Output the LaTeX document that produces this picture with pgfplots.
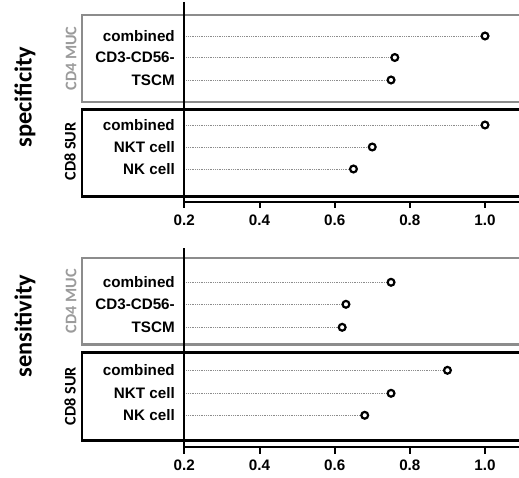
\documentclass[border=0pt]{standalone}
\usepackage{pgfplots}
\pgfplotsset{compat=1.18}
\usepackage{fontspec}
\setmainfont{Liberation Sans}
\newfontfamily\calibri{Carlito}
\definecolor{boxgray}{RGB}{140,140,140}
\definecolor{txtgray}{RGB}{155,155,155}
\definecolor{dotgray}{RGB}{140,140,140}
\pgfplotsset{
  panel/.style={
    scale only axis,
    width=334.7pt,
    xmin=0.2, xmax=1.0904,
    axis x line*=bottom, axis y line*=left,
    axis line style={draw=none},
    xtick={0.2,0.4,0.6,0.8,1.0},
    xticklabels={0.2,0.4,0.6,0.8,1.0},
    tick align=outside, major tick length=6pt,
    xtick style={draw=none},
    ytick style={draw=none},
    tick label style={font=\fontsize{15.2}{18}\selectfont\bfseries, text=black},
    xticklabel style={yshift=-4pt},
    clip=true,
  },
  lolly/.style={xcomb, dotgray, densely dotted, line width=0.8pt},
  dots/.style={only marks, mark=*, mark size=3.4pt, line width=2.2pt,
    mark options={fill=white, draw=black, line width=2.2pt},
    every mark/.append style={line width=2.2pt}},
}
\begin{document}
\begin{tikzpicture}
\clip (0pt,0pt) rectangle (519pt,477pt);
% ---------- specificity ----------
\draw[boxgray, line width=2.4pt] (82pt,462pt) rectangle (530pt,375pt);
\draw[black, line width=2.6pt] (82pt,367.7pt) rectangle (530pt,280.3pt);
\node[rotate=90, txtgray, font=\calibri\fontsize{16.2}{18}\selectfont\bfseries] at (71pt,418.5pt) {CD4 MUC};
\node[rotate=90, black, font=\calibri\fontsize{16.2}{18}\selectfont\bfseries] at (70pt,325.5pt) {CD8 SUR};
\node[rotate=90, black, font=\calibri\fontsize{24.4}{28}\selectfont\bfseries] at (25pt,380pt) {specificity};
\begin{axis}[panel, at={(184.3pt,275.3pt)}, anchor=south west,
  height=199.7pt, ymin=-201.7, ymax=-2,
  ytick={-36,-57.5,-80,-125,-147,-169},
  yticklabels={combined,CD3-CD56-,TSCM,combined,NKT cell,NK cell}]
\addplot[lolly] coordinates {(1.0,-36) (0.76,-57.5) (0.75,-80) (1.0,-125) (0.70,-147) (0.65,-169)};
\addplot[dots] coordinates {(1.0,-36) (0.76,-57.5) (0.75,-80) (1.0,-125) (0.70,-147) (0.65,-169)};
\end{axis}
% ---------- sensitivity ----------
\draw[boxgray, line width=2.4pt] (82pt,218.7pt) rectangle (530pt,132.7pt);
\draw[black, line width=2.6pt] (82pt,124.3pt) rectangle (530pt,36.7pt);
\node[rotate=90, txtgray, font=\calibri\fontsize{16.2}{18}\selectfont\bfseries] at (71pt,175.7pt) {CD4 MUC};
\node[rotate=90, black, font=\calibri\fontsize{16.2}{18}\selectfont\bfseries] at (70pt,81pt) {CD8 SUR};
\node[rotate=90, black, font=\calibri\fontsize{24.4}{28}\selectfont\bfseries] at (25pt,151pt) {sensitivity};
\begin{axis}[panel, at={(184.3pt,30.3pt)}, anchor=south west,
  height=198.4pt, ymin=-446.7, ymax=-248.3,
  ytick={-282.3,-304.3,-327.3,-370.3,-393.3,-415.3},
  yticklabels={combined,CD3-CD56-,TSCM,combined,NKT cell,NK cell}]
\addplot[lolly] coordinates {(0.75,-282.3) (0.63,-304.3) (0.62,-327.3) (0.90,-370.3) (0.75,-393.3) (0.68,-415.3)};
\addplot[dots] coordinates {(0.75,-282.3) (0.63,-304.3) (0.62,-327.3) (0.90,-370.3) (0.75,-393.3) (0.68,-415.3)};
\end{axis}
% ---------- axis lines and ticks (both panels) ----------
\draw[black, line width=1.7pt] (184.3pt,475pt) -- (184.3pt,268.5pt);
\draw[black, line width=2pt] (183.5pt,275.3pt) -- (519pt,275.3pt);
\draw[black, line width=2pt] (259.5pt,276pt) -- (259.5pt,268.5pt);
\draw[black, line width=2pt] (334.6pt,276pt) -- (334.6pt,268.5pt);
\draw[black, line width=2pt] (409.8pt,276pt) -- (409.8pt,268.5pt);
\draw[black, line width=2pt] (485.0pt,276pt) -- (485.0pt,268.5pt);
\draw[black, line width=1.7pt] (184.3pt,228.7pt) -- (184.3pt,23.5pt);
\draw[black, line width=2pt] (183.5pt,30.3pt) -- (519pt,30.3pt);
\draw[black, line width=2pt] (259.5pt,31pt) -- (259.5pt,23.5pt);
\draw[black, line width=2pt] (334.6pt,31pt) -- (334.6pt,23.5pt);
\draw[black, line width=2pt] (409.8pt,31pt) -- (409.8pt,23.5pt);
\draw[black, line width=2pt] (485.0pt,31pt) -- (485.0pt,23.5pt);
\end{tikzpicture}
\end{document}
